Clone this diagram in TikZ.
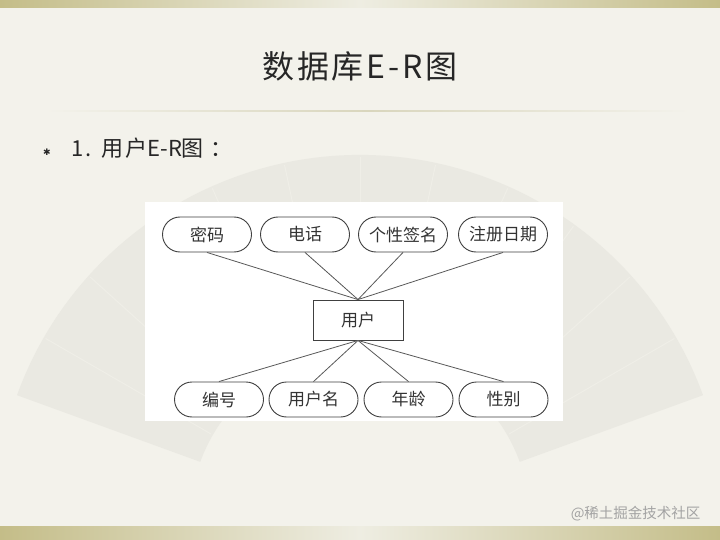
\documentclass[tikz,border=0pt]{standalone}
\usepackage{fontspec}
\setmainfont{Noto Sans CJK SC}
\newfontfamily\titlefont[LetterSpace=9]{Noto Sans CJK SC}
\newfontfamily\subfont[LetterSpace=10]{Noto Sans CJK SC}
\newfontfamily\plainfont{Noto Sans CJK SC}
\newfontfamily\symfont{DejaVu Sans}
\usetikzlibrary{calc}
\definecolor{bgc}{HTML}{F3F2EB}
\definecolor{fanc}{HTML}{EAE9E2}
\definecolor{olive}{HTML}{C4BD88}
\definecolor{olivelight}{HTML}{EEEDE2}
\definecolor{sepc}{HTML}{D9D6BD}
\definecolor{txt}{HTML}{262626}
\definecolor{dtxt}{HTML}{333333}
\definecolor{wm}{HTML}{A3A3A3}
\tikzset{
  attr/.style={draw=black!75, line width=0.9pt, fill=white, rectangle, rounded corners=17.5pt,
    minimum width=89pt, minimum height=35pt, inner sep=0pt, text=dtxt,
    font=\fontsize{17}{20}\selectfont},
  ent/.style={draw=black!75, line width=0.9pt, fill=white, rectangle,
    minimum width=90pt, minimum height=40pt, inner sep=0pt, text=dtxt,
    font=\fontsize{17}{20}\selectfont},
  link/.style={draw=black!65, line width=0.8pt},
}
\begin{document}
\begin{tikzpicture}[x=1pt,y=-1pt]
\useasboundingbox (0,0) rectangle (720,540);
% background
\fill[bgc] (0,0) rectangle (720,540);
% faint fan
\fill[fanc] ($(360,520)+(-160:365)$) arc[start angle=-160,end angle=-20,radius=365]
  -- ($(360,520)+(-20:170)$) arc[start angle=-20,end angle=-160,radius=170] -- cycle;
\foreach \a in {-150,-138,-126,-114,-102,-90,-78,-66,-54,-42,-30}{
  \draw[bgc!60!fanc, line width=1pt] ($(360,520)+(\a:172)$) -- ($(360,520)+(\a:363)$);
}
% top and bottom bars
\shade[left color=olive, right color=olive, middle color=olivelight] (0,0) rectangle (720,8);
\shade[left color=olive, right color=olive, middle color=olivelight] (0,526) rectangle (720,540);
% separator
\shade[left color=bgc, right color=bgc, middle color=sepc] (45,110.3) rectangle (690,111.8);
% title
\node[text=txt, font=\titlefont\fontsize{32}{36}\selectfont] (title) at (360,66) {数据库E-R图};
% bullet
\node[text=txt, font=\symfont\fontsize{9}{10}\selectfont] (bul) at (47,152) {✱};
\node[text=txt, anchor=west, inner sep=0pt, font=\subfont\fontsize{22}{26}\selectfont] (sub) at (71,148)
  {1. 用户{\plainfont\fontsize{22}{26}\selectfont E-R}图\hspace{7pt}：};
% white panel
\fill[white] (145,202) rectangle (563,421);
% diagram
\node[ent] (user) at (358,320) {用户};
\node[attr] (mima) at (207,234.5) {密码};
\node[attr] (dianhua) at (305,234.5) {电话};
\node[attr] (qianming) at (403,234.5) {个性签名};
\node[attr] (zhuce) at (503,234.5) {注册日期};
\node[attr] (bianhao) at (219,399.5) {编号};
\node[attr] (yonghuming) at (313.5,399.5) {用户名};
\node[attr] (nianling) at (408.5,399.5) {年龄};
\node[attr] (xingbie) at (503.5,399.5) {性别};
\foreach \n in {mima,dianhua,qianming,zhuce}{
  \draw[link] (\n.south) -- (user.north);
}
\foreach \n in {bianhao,yonghuming,nianling,xingbie}{
  \draw[link] (\n.north) -- (user.south);
}
% watermark
\node[text=wm, anchor=east, font=\fontsize{14.5}{16}\selectfont] (wmk) at (704,514) {@稀土掘金技术社区};
\end{tikzpicture}
\end{document}
